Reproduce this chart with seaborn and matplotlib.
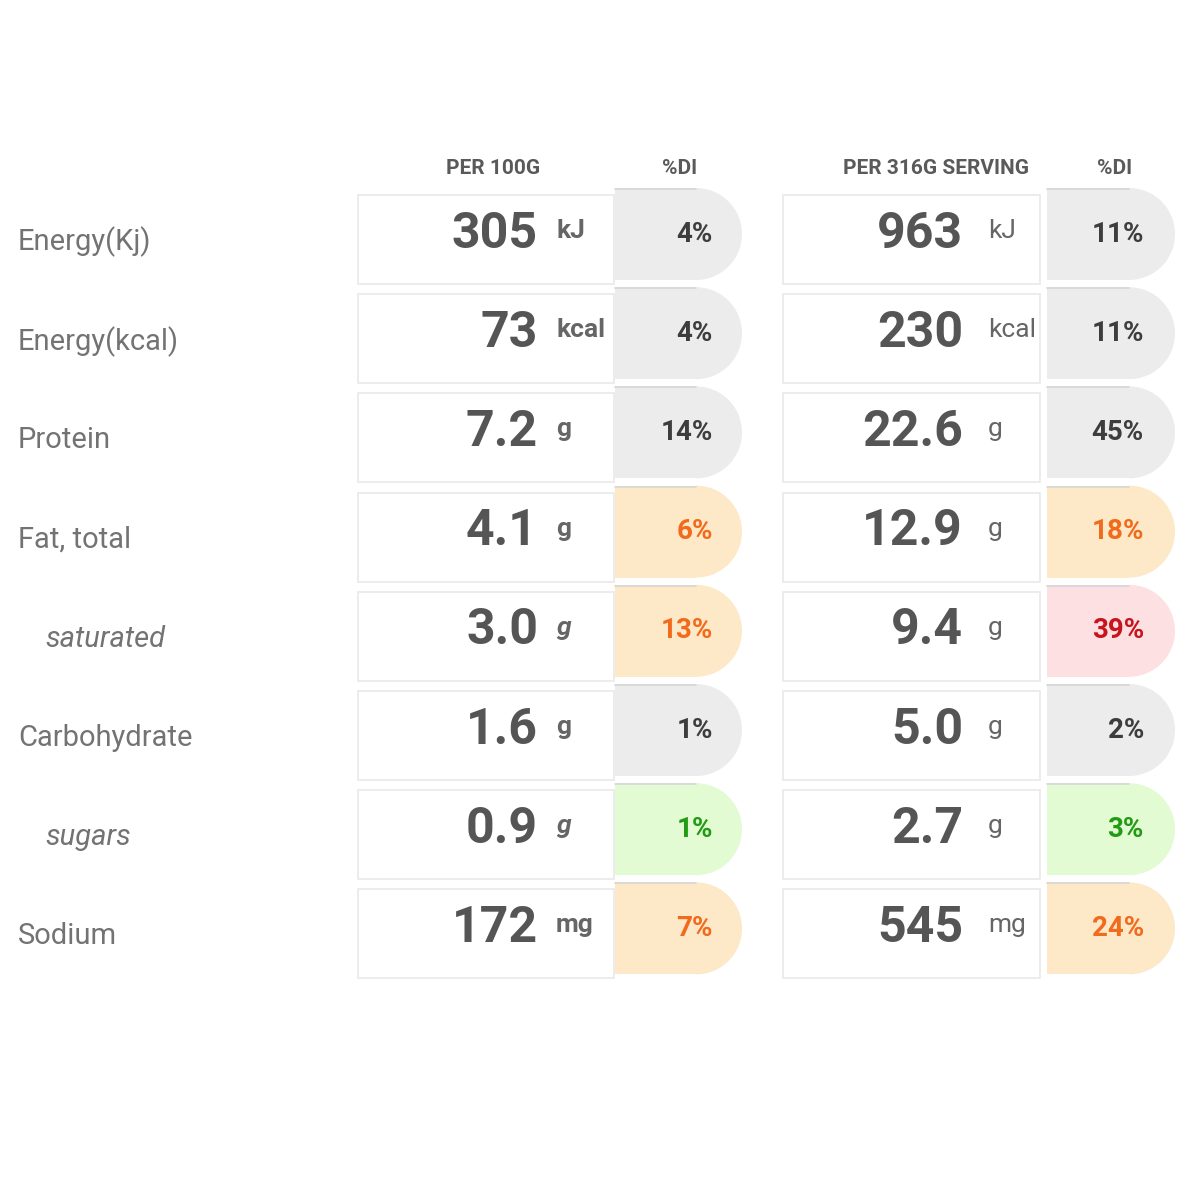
import matplotlib
matplotlib.use('Agg')
import matplotlib.pyplot as plt
from matplotlib.patches import Rectangle, Wedge
import seaborn as sns

# table content
nutrients = ['Energy(Kj)', 'Energy(kcal)', 'Protein', 'Fat, total',
             'saturated', 'Carbohydrate', 'sugars', 'Sodium']
sub_rows = ['saturated', 'sugars']
units = ['kJ', 'kcal', 'g', 'g', 'g', 'g', 'g', 'mg']
per_100g = ['305', '73', '7.2', '4.1', '3.0', '1.6', '0.9', '172']
di_100g = [4, 4, 14, 6, 13, 1, 1, 7]
level_100g = ['low', 'low', 'low', 'mid', 'mid', 'low', 'good', 'mid']
per_serving = ['963', '230', '22.6', '12.9', '9.4', '5.0', '2.7', '545']
di_serving = [11, 11, 45, 18, 39, 2, 3, 24]
level_serving = ['low', 'low', 'low', 'mid', 'high', 'low', 'good', 'mid']
headers = ['PER 100G', '%DI', 'PER 316G SERVING', '%DI']

sns.set_theme(style='white')
plt.rcParams['font.family'] = ['Roboto', 'DejaVu Sans']

pill_fill = {'low': '#ececec', 'mid': '#fde8c8', 'high': '#fde0e2', 'good': '#e3fbd3'}
pill_text = {'low': '#3d3d3d', 'mid': '#f26a1b', 'high': '#c8141c', 'good': '#219a14'}

fig = plt.figure(figsize=(12, 12), dpi=100)
ax = fig.add_axes([0, 0, 1, 1])
ax.set_xlim(0, 1200)
ax.set_ylim(1200, 0)
ax.axis('off')

row_top0 = 188
pitch = 99.2
pill_h = 92
label_col = '#737373'
num_col = '#555555'


def pill(x0, x1, top, fill):
    r = pill_h / 2
    ax.add_patch(Rectangle((x0, top), x1 - r - x0, pill_h, facecolor=fill,
                           edgecolor='none', zorder=2))
    ax.add_patch(Wedge((x1 - r, top + r), r, -90, 90, facecolor=fill,
                       edgecolor='none', zorder=2))
    # faint shadow along the top
    ax.plot([x0, x1 - r], [top + 1, top + 1], color='#d6d6d6', lw=1.2, zorder=3)


panels = [
    dict(box=(358, 614), pill=(615, 742), num_x=538, unit_x=556, di_x=713,
         vals=per_100g, di=di_100g, lev=level_100g, italic_unit=True),
    dict(box=(783, 1040), pill=(1047, 1175), num_x=963, unit_x=988, di_x=1144,
         vals=per_serving, di=di_serving, lev=level_serving, italic_unit=False),
]

for i, name in enumerate(nutrients):
    top = row_top0 + i * pitch
    yc = top + pill_h / 2
    sub = name in sub_rows
    ax.text(45 if sub else 18, yc + 8, name, fontsize=21,
            style='italic' if sub else 'normal', color=label_col,
            ha='left', va='center')
    for p in panels:
        bx0, bx1 = p['box']
        ax.add_patch(Rectangle((bx0, top + 7), bx1 - bx0, pill_h - 3,
                               facecolor='white', edgecolor='#ebebeb',
                               lw=1.3, zorder=1))
        pill(p['pill'][0], p['pill'][1], top, pill_fill[p['lev'][i]])
        ax.text(p['num_x'], yc, p['vals'][i], fontsize=36, fontweight='bold',
                color=num_col, ha='right', va='center', zorder=4)
        it = p['italic_unit'] and sub
        ax.text(p['unit_x'], yc - 3, units[i], fontsize=19,
                fontweight='bold' if p['italic_unit'] else 'normal',
                style='italic' if it else 'normal',
                color='#666666', ha='left', va='center', zorder=4)
        ax.text(p['di_x'], yc, f"{p['di'][i]}%", fontsize=20, fontweight='bold',
                color=pill_text[p['lev'][i]], ha='right', va='center', zorder=4)

for hx, h in zip([493, 680, 936, 1115], headers):
    ax.text(hx, 169, h, fontsize=15, fontweight='bold', color='#5a5a5a',
            ha='center', va='center')

fig.savefig('out.png', dpi=100, facecolor='white')
